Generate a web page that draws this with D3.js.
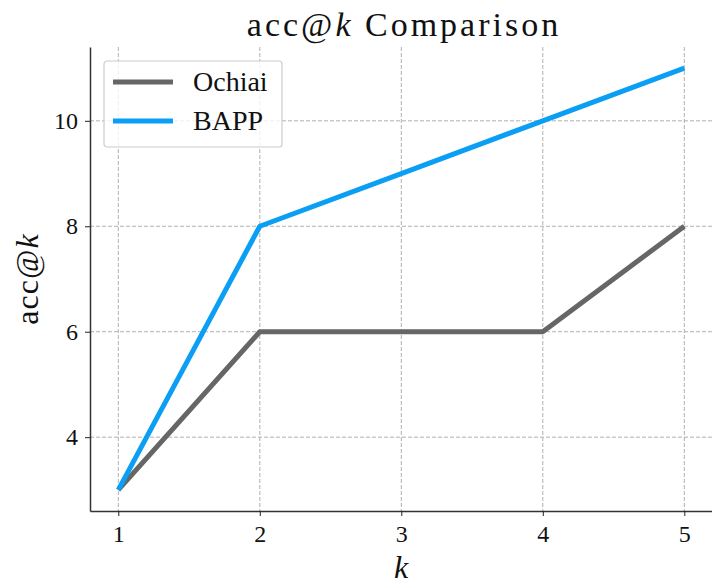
<!DOCTYPE html>
<html>
<head>
<meta charset="utf-8">
<script src="https://cdn.jsdelivr.net/npm/d3@7"></script>
<style>
  body { margin: 0; background: #fff; }
  svg { display: block; }
  text { font-family: "Liberation Serif", "DejaVu Serif", serif; fill: #111; }
</style>
</head>
<body>
<div id="chart"></div>
<script>
// données
const kValues = [1, 2, 3, 4, 5];
const ochiai = [3, 6, 6, 6, 8];
const bapp = [3, 8, 9, 10, 11];
const xTicks = [1, 2, 3, 4, 5];
const yTicks = [4, 6, 8, 10];

const width = 712, height = 582;
const margin = { top: 47, right: 0, bottom: 71, left: 90 };
const innerWidth = width - margin.left - margin.right;
const innerHeight = height - margin.top - margin.bottom;

const svg = d3.select('#chart').append('svg')
    .attr('width', width)
    .attr('height', height);

const g = svg.append('g')
    .attr('transform', `translate(${margin.left},${margin.top})`);

const x = d3.scaleLinear().domain([0.8, 5.2]).range([0, innerWidth + 0.6]);
const y = d3.scaleLinear().domain([2.6, 11.4]).range([innerHeight, 0]);

// grille
g.append('g').selectAll('line')
    .data(xTicks).enter().append('line')
    .attr('x1', d => x(d)).attr('x2', d => x(d))
    .attr('y1', 0).attr('y2', innerHeight)
    .attr('stroke', '#b0b0b0').attr('stroke-width', 1)
    .attr('stroke-dasharray', '4,2');

g.append('g').selectAll('line')
    .data(yTicks).enter().append('line')
    .attr('x1', 0).attr('x2', innerWidth)
    .attr('y1', d => y(d)).attr('y2', d => y(d))
    .attr('stroke', '#b0b0b0').attr('stroke-width', 1)
    .attr('stroke-dasharray', '4,2');

// courbes
const line = d3.line().x((d, i) => x(kValues[i])).y(d => y(d));
const series = [
    { name: 'Ochiai', values: ochiai, color: '#666666' },
    { name: 'BAPP', values: bapp, color: '#0a9ff5' }
];

g.selectAll('path.serie')
    .data(series).enter().append('path')
    .attr('class', 'serie')
    .attr('d', d => line(d.values))
    .attr('fill', 'none')
    .attr('stroke', d => d.color)
    .attr('stroke-width', 5)
    .attr('stroke-linejoin', 'round');

// axes
const xAxis = g.append('g')
    .attr('transform', `translate(0,${innerHeight})`)
    .call(d3.axisBottom(x).tickValues(xTicks).tickSize(5).tickSizeOuter(0).tickPadding(9).tickFormat(d3.format('d')));
const yAxis = g.append('g')
    .call(d3.axisLeft(y).tickValues(yTicks).tickSize(5).tickSizeOuter(0).tickPadding(7).tickFormat(d3.format('d')));

[xAxis, yAxis].forEach(a => {
    a.select('.domain').attr('stroke', '#333').attr('stroke-width', 1.5);
    a.selectAll('.tick line').attr('stroke', '#222').attr('stroke-width', 1);
    a.selectAll('.tick text').style('font-size', '24px').style('font-family', '"Liberation Serif", serif').attr('fill', '#111');
});

// titre et libellés
svg.append('text')
    .attr('x', 404)
    .attr('y', 36)
    .attr('text-anchor', 'middle')
    .style('font-size', '34px')
    .style('letter-spacing', '3px')
    .html('acc@<tspan font-style="italic">k</tspan> Comparison');

svg.append('text')
    .attr('x', margin.left + innerWidth / 2)
    .attr('y', 578)
    .attr('text-anchor', 'middle')
    .style('font-size', '32px')
    .style('font-style', 'italic')
    .text('k');

svg.append('text')
    .attr('transform', `translate(38,${margin.top + innerHeight / 2}) rotate(-90)`)
    .attr('text-anchor', 'middle')
    .style('font-size', '32px')
    .style('letter-spacing', '1px')
    .html('acc@<tspan font-style="italic">k</tspan>');

// légende
const legend = svg.append('g').attr('transform', 'translate(104,61)');
legend.append('rect')
    .attr('width', 178).attr('height', 86)
    .attr('rx', 3)
    .attr('fill', '#fff').attr('fill-opacity', 0.8)
    .attr('stroke', '#cccccc').attr('stroke-width', 1.2);

const items = legend.selectAll('g.item')
    .data(series).enter().append('g')
    .attr('class', 'item')
    .attr('transform', (d, i) => `translate(0,${21 + i * 39})`);
items.append('line')
    .attr('x1', 9).attr('x2', 69)
    .attr('stroke', d => d.color).attr('stroke-width', 5);
items.append('text')
    .attr('x', 89).attr('y', 9)
    .style('font-size', '28px')
    .text(d => d.name);
</script>
</body>
</html>
